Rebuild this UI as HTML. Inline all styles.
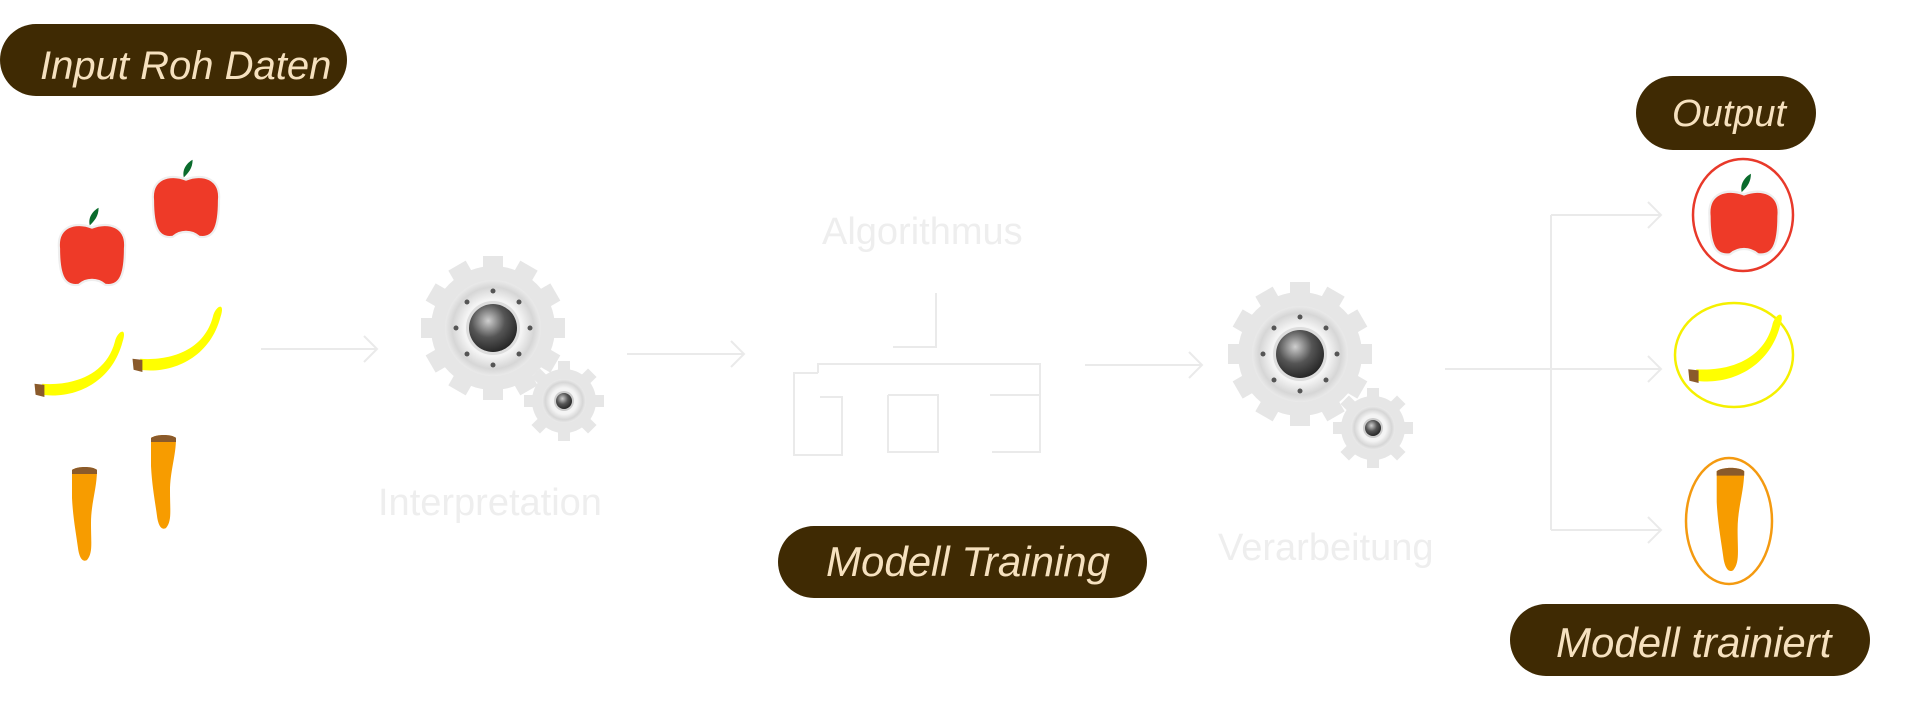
<!DOCTYPE html>
<html><head><meta charset="utf-8"><style>
html,body{margin:0;padding:0;background:#fff;width:1920px;height:713px;overflow:hidden}
svg{display:block}
text{font-family:"Liberation Sans",sans-serif}
</style></head><body>
<svg width="1920" height="713" viewBox="0 0 1920 713" xmlns="http://www.w3.org/2000/svg">
<defs>
<radialGradient id="hole" cx="0.4" cy="0.35" r="0.7"><stop offset="0" stop-color="#cfcfcf"/><stop offset="0.5" stop-color="#555"/><stop offset="1" stop-color="#222"/></radialGradient>
<radialGradient id="disc" cx="0.5" cy="0.5" r="0.5"><stop offset="0.6" stop-color="#f4f4f4"/><stop offset="0.85" stop-color="#d6d6d6"/><stop offset="1" stop-color="#eaeaea"/></radialGradient>
<g id="apple"><path d="M-30,-5 C-32,-25 -15,-30 0,-24 C15,-30 32,-25 30,-5 C30,20 25,30 12,28 C5,22 -5,22 -12,28 C-25,30 -30,20 -30,-5Z" fill="#ee3a28" stroke="#eee" stroke-width="2"/><path d="M-2,-26 C-4,-34 2,-40 6,-42 C6,-34 2,-30 -2,-26Z" fill="#0a6b2c"/></g>
<g id="banana"><path d="M-38,18 C-10,22 25,8 35,-30 C40,-45 30,-40 28,-30 C20,0 -10,10 -38,8Z" fill="#ffff00"/><path d="M-45,8 L-36,9 L-36,20 L-44,18Z" fill="#8a5a2b"/></g>
<g id="carrot"><path d="M-13,-48 C-8,-52 8,-52 12,-48 C12,-30 6,-15 6,5 C6,25 8,35 2,42 C-3,45 -6,38 -7,30 C-9,15 -12,0 -13,-20Z" fill="#f79c00"/><path d="M-13,-48 C-8,-52 8,-52 12,-48 L12,-44 L-13,-44Z" fill="#8a5a2b"/></g>
<g id="gear">
<g fill="#e6e6e6">
<circle r="62"/>
<g id="teeth"><rect x="-10" y="-72" width="20" height="16"/><rect x="-10" y="56" width="20" height="16"/><rect x="-72" y="-10" width="16" height="20"/><rect x="56" y="-10" width="16" height="20"/></g>
<use href="#teeth" transform="rotate(30)"/><use href="#teeth" transform="rotate(60)"/>
</g>
<circle r="48" fill="url(#disc)"/>
<circle r="27" fill="#ddd"/>
<circle r="24" fill="url(#hole)"/>
<g fill="#555"><circle cx="0" cy="-37" r="2.5"/><circle cx="0" cy="37" r="2.5"/><circle cx="-37" cy="0" r="2.5"/><circle cx="37" cy="0" r="2.5"/><circle cx="26" cy="26" r="2.5"/><circle cx="-26" cy="26" r="2.5"/><circle cx="26" cy="-26" r="2.5"/><circle cx="-26" cy="-26" r="2.5"/></g>
</g>
<g id="sgear">
<g fill="#e6e6e6"><circle r="32"/>
<g id="st"><rect x="-6" y="-40" width="12" height="10"/><rect x="-6" y="30" width="12" height="10"/><rect x="-40" y="-6" width="10" height="12"/><rect x="30" y="-6" width="10" height="12"/></g>
<use href="#st" transform="rotate(45)"/></g>
<circle r="22" fill="url(#disc)"/><circle r="10" fill="#ccc"/><circle r="8" fill="url(#hole)"/>
</g>
</defs>

<!-- pills -->
<rect x="0" y="24" width="347" height="72" rx="36" fill="#3f2a03"/>
<text x="40" y="79" font-size="40" fill="#f6e1bf" font-style="italic">Input Roh Daten</text>
<rect x="1636" y="76" width="180" height="74" rx="37" fill="#3f2a03"/>
<text x="1672" y="126" font-size="38" fill="#f6e1bf" font-style="italic">Output</text>
<rect x="778" y="526" width="369" height="72" rx="36" fill="#3f2a03"/>
<text x="826" y="576" font-size="42" fill="#f6e1bf" font-style="italic">Modell Training</text>
<rect x="1510" y="604" width="360" height="72" rx="36" fill="#3f2a03"/>
<text x="1556" y="657" font-size="42" fill="#f6e1bf" font-style="italic">Modell trainiert</text>

<!-- fruits input -->
<g transform="translate(92,254) scale(1.1)"><use href="#apple"/></g>
<g transform="translate(186,206) scale(1.1)"><use href="#apple"/></g>
<g transform="translate(84,375) scale(1.1)"><use href="#banana"/></g>
<g transform="translate(182,350) scale(1.1)"><use href="#banana"/></g>
<use href="#carrot" x="85" y="518"/>
<use href="#carrot" x="164" y="486"/>

<!-- gears -->
<use href="#gear" x="493" y="328"/>
<use href="#sgear" x="564" y="401"/>
<use href="#gear" x="1300" y="354"/>
<use href="#sgear" x="1373" y="428"/>

<!-- arrows -->
<g stroke="#eaeaea" stroke-width="2" fill="none">
<path d="M261,349 H376 M364,336 L377,349 L364,362"/>
<path d="M627,354 H743 M731,341 L744,354 L731,367"/>
<path d="M1085,365 H1201 M1189,352 L1202,365 L1189,378"/>
<path d="M1445,369 H1551 M1551,215 V530 M1551,215 H1660 M1551,369 H1660 M1551,530 H1660 M1648,202 L1661,215 L1648,228 M1648,356 L1661,369 L1648,382 M1648,517 L1661,530 L1648,543"/>
<!-- tree -->
<path d="M936,293 V347 H893 M818,373 V364 H1040 V395 M818,373 H794 V455 H842 V397 H820 M888,395 V452 H938 V395 H888 M990,395 H1040 V452 H992"/>
</g>
<g font-size="38">
<text x="822" y="244" fill="#eeeeee">Algorithmus</text>
<text x="378" y="515" fill="#eeeeee">Interpretation</text>
<text x="1218" y="560" fill="#eeeeee">Verarbeitung</text>
</g>

<!-- outputs -->
<ellipse cx="1743" cy="215" rx="50" ry="56" fill="none" stroke="#e8392a" stroke-width="2.5"/>
<g transform="translate(1744,222) scale(1.15)"><use href="#apple"/></g>
<ellipse cx="1734" cy="355" rx="59" ry="52" fill="none" stroke="#f5f000" stroke-width="2.5"/>
<g transform="translate(1740,360) scale(1.15)"><use href="#banana"/></g>
<ellipse cx="1729" cy="521" rx="43" ry="63" fill="none" stroke="#f49a10" stroke-width="2.5"/>
<g transform="translate(1731,524) scale(1.1)"><use href="#carrot"/></g>
</svg>
</body></html>
